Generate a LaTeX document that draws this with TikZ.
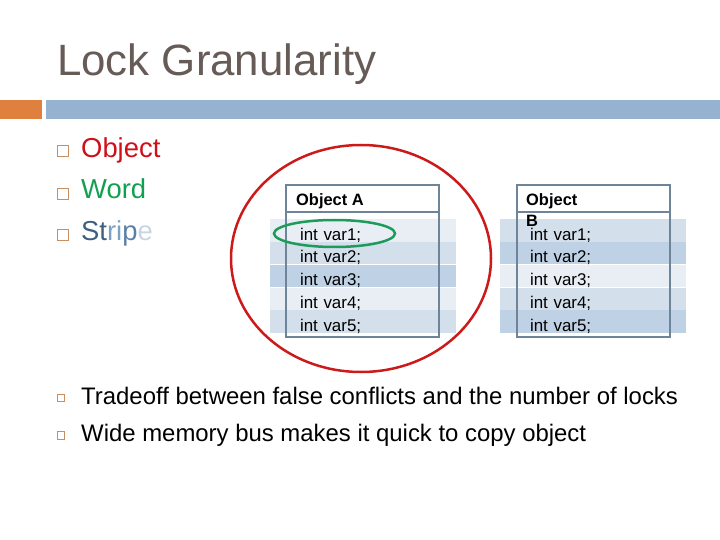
\documentclass[tikz,border=0pt]{standalone}
\usepackage{fontspec}
\setmainfont{Liberation Sans}
\usepackage{xcolor}
\usepackage{tikz}
\usetikzlibrary{positioning}

\definecolor{titlegray}{HTML}{665B57}
\definecolor{barorange}{HTML}{E0803F}
\definecolor{barblue}{HTML}{95B3D0}
\definecolor{bulletbrown}{HTML}{C88F62}
\definecolor{objred}{HTML}{D01018}
\definecolor{wordgreen}{HTML}{10A050}
\definecolor{stripedark}{HTML}{3F5F80}
\definecolor{stripemid}{HTML}{5A80A8}
\definecolor{stripesoft}{HTML}{7EA0C2}
\definecolor{stripepale}{HTML}{C8D6E4}
\definecolor{framegray}{HTML}{6E8499}
\definecolor{rowlight}{HTML}{E9EEF5}
\definecolor{rowmid}{HTML}{D3DFEB}
\definecolor{rowdark}{HTML}{BFD1E4}
\definecolor{ringred}{HTML}{CC1A1A}
\definecolor{ringgreen}{HTML}{1E9A5A}

\begin{document}
\begin{tikzpicture}[
    x=1bp, y=-1bp,
    bar/.style={fill=#1, draw=none},
    bulletbox/.style={draw=bulletbrown, line width=1.3bp, minimum size=#1, inner sep=0pt},
    bigitem/.style={font=\fontsize{27.5}{32}\selectfont, text height=19.8bp, text depth=0pt, inner sep=0pt, anchor=west},
    smallitem/.style={font=\fontsize{24}{28}\selectfont, text height=17.3bp, text depth=0pt, inner sep=0pt, anchor=west},
    row/.style={fill=#1, minimum height=22.35bp, text width=126bp, inner xsep=30bp, inner ysep=0pt,
                align=left, font=\fontsize{17}{20}\selectfont, text height=19.2bp, text depth=0pt},
    objframe/.style={draw=framegray, line width=2bp, minimum width=153bp, minimum height=152bp, inner sep=0pt},
    header/.style={font=\bfseries\fontsize{16.5}{21}\selectfont, inner sep=0pt, anchor=base west}
]
    \useasboundingbox (0,0) rectangle (720,540);

    % title and rule
    \node[anchor=base west, inner sep=0pt, text=titlegray, font=\fontsize{44}{50}\selectfont]
        (title) at (57,76) {Lock Granularity};
    \fill[bar=barorange] (0,100) rectangle (42,119);
    \fill[bar=barblue]   (46,100) rectangle (720,119);

    % upper bullets
    \node[bulletbox=10.5bp] (bul1) at (63,151) {};
    \node[bulletbox=10.5bp] (bul2) at (63,194) {};
    \node[bulletbox=10.5bp] (bul3) at (63,235) {};
    \node[bigitem, text=objred]    (object) at (81,147.5) {Object};
    \node[bigitem, text=wordgreen] (word)   at (81,189)   {Word};
    \node[bigitem]                 (stripe) at (81,231)
        {{\color{stripedark}St}{\color{stripesoft}ri}{\color{stripemid}p}{\color{stripepale}e}};

    % object A rows
    \node[row=rowlight] (a1) at (363,230.5) {int var1;};
    \node[row=rowmid]   (a2) [below=0pt of a1] {int var2;};
    \node[row=rowdark]  (a3) [below=0pt of a2] {int var3;};
    \node[row=rowlight] (a4) [below=0pt of a3] {int var4;};
    \node[row=rowmid]   (a5) [below=0pt of a4] {int var5;};

    % object B rows
    \node[row=rowmid]   (b1) at (593,230.5) {int var1;};
    \node[row=rowdark]  (b2) [below=0pt of b1] {int var2;};
    \node[row=rowlight] (b3) [below=0pt of b2] {int var3;};
    \node[row=rowmid]   (b4) [below=0pt of b3] {int var4;};
    \node[row=rowdark]  (b5) [below=0pt of b4] {int var5;};

    % frames
    \node[objframe] (frameA) at (362.5,261) {};
    \node[objframe] (frameB) at (593,261) {};
    \draw[framegray, line width=2bp] ([yshift=-28bp]frameA.north west) -- ([yshift=-28bp]frameA.north east);
    \draw[framegray, line width=2bp] ([yshift=-28bp]frameB.north west) -- ([yshift=-28bp]frameB.north east);
    \node[header] (headA) at (296,206) {Object A};
    \node[header, text width=62bp, align=left] (headB) at (526,206) {Object B};

    % granularity rings
    \draw[ringred, line width=2.5bp] (361,258.5) ellipse [x radius=130, y radius=113.5];
    \draw[ringgreen, line width=2.5bp] (334.5,233.5) ellipse [x radius=60.5, y radius=13.5];

    % lower bullets
    \node[bulletbox=7.5bp] (bul4) at (61,398) {};
    \node[bulletbox=7.5bp] (bul5) at (61,435.5) {};
    \node[smallitem] (tradeoff) at (81,395.5) {Tradeoff between false conflicts and the number of locks};
    \node[smallitem] (membus)   at (81,433)   {Wide memory bus makes it quick to copy object};
\end{tikzpicture}
\end{document}
